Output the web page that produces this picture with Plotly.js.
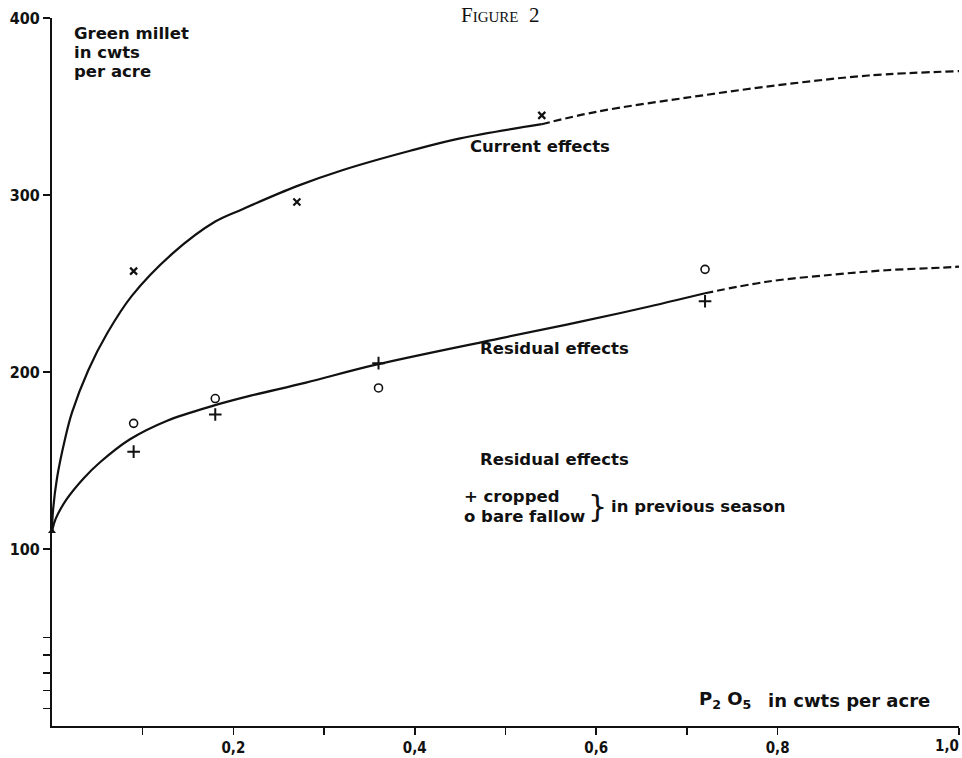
<!DOCTYPE html>
<html>
<head>
<meta charset="utf-8">
<script src="https://cdn.plot.ly/plotly-3.0.1.min.js"></script>
<style>html,body{margin:0;padding:0;background:#fff;}#chart{width:962px;height:758px;}</style>
</head>
<body>
<div id="chart"></div>
<script>
// ---- data ----
const currentPtsX = [0.09, 0.27, 0.54];
const currentPtsY = [257, 296, 345];

const croppedX = [0.09, 0.18, 0.36, 0.72];
const croppedY = [155, 176, 205, 240];

const fallowX = [0.09, 0.18, 0.36, 0.72];
const fallowY = [171, 185, 191, 258];

const controlX = [0];
const controlY = [110];

// fitted curves (solid part, then dashed extrapolation)
const currentCurveX = [0, 0.001, 0.0055, 0.0143, 0.022, 0.04, 0.061, 0.088, 0.133, 0.18, 0.21, 0.27, 0.32, 0.395, 0.45, 0.54];
const currentCurveY = [110, 121, 140, 162, 177, 201, 222, 243, 267, 285, 292, 305, 314, 325, 332, 340];
const currentDashX = [0.54, 0.6, 0.7, 0.8, 0.9, 1.0];
const currentDashY = [340, 347, 355, 362, 367.5, 370];

const residualCurveX = [0, 0.004, 0.016, 0.035, 0.053, 0.086, 0.127, 0.178, 0.218, 0.28, 0.356, 0.494, 0.579, 0.65, 0.72];
const residualCurveY = [110, 117, 128, 140, 149, 162, 172.5, 181, 186.5, 194, 204, 219, 228, 236, 244.5];
const residualDashX = [0.72, 0.788, 0.861, 0.92, 0.982, 1.0];
const residualDashY = [244.5, 251, 255, 257.5, 259, 259.5];

const xTickVals = [0.1, 0.2, 0.3, 0.4, 0.5, 0.6, 0.7, 0.8, 1.0];
const xTickText = ['', '0,2', '', '0,4', '', '0,6', '', '0,8', ''];
const xLastTickText = '1,0';
const yTickVals = [10, 20, 30, 40, 50, 100, 200, 300, 400];
const yTickText = ['', '', '', '', '', '100', '200', '300', '400'];

// ---- styling ----
const INK = '#111111';
const LBL = 'DejaVu Sans, sans-serif';
const TCK = 'DejaVu Sans Condensed, DejaVu Sans, sans-serif';
const lblFont = {family: LBL, size: 16.5, color: INK, weight: 'bold'};
const tickFont = {family: TCK, size: 15, color: INK, weight: 'bold'};

const traces = [
  {x: currentCurveX, y: currentCurveY, mode: 'lines', line: {color: INK, width: 2.2, shape: 'spline', smoothing: 1}},
  {x: currentDashX, y: currentDashY, mode: 'lines', line: {color: INK, width: 2.2, dash: '8px,4px', shape: 'spline', smoothing: 1}},
  {x: residualCurveX, y: residualCurveY, mode: 'lines', line: {color: INK, width: 2.2, shape: 'spline', smoothing: 1}},
  {x: residualDashX, y: residualDashY, mode: 'lines', line: {color: INK, width: 2.2, dash: '8px,4px', shape: 'spline', smoothing: 1}},
  {x: currentPtsX, y: currentPtsY, mode: 'markers', marker: {symbol: 'x-thin-open', size: 7, color: INK, line: {color: INK, width: 2.2}}},
  {x: croppedX, y: croppedY, mode: 'markers', marker: {symbol: 'cross-thin-open', size: 9, color: INK, line: {color: INK, width: 2}}},
  {x: fallowX, y: fallowY, mode: 'markers', marker: {symbol: 'circle-open', size: 8, color: INK, line: {color: INK, width: 1.6}}},
  {x: controlX, y: controlY, mode: 'markers', marker: {symbol: 'triangle-up', size: 7, color: INK}, cliponaxis: false}
];

function ann(x, y, text, extra) {
  return Object.assign({x: x, y: y, xref: 'x', yref: 'y', text: text, showarrow: false,
    xanchor: 'left', yanchor: 'middle', font: lblFont}, extra || {});
}

const layout = {
  width: 962, height: 758,
  margin: {l: 52, r: 3, t: 18, b: 32},
  paper_bgcolor: '#fff', plot_bgcolor: '#fff',
  showlegend: false, hovermode: false,
  title: {text: 'Figure&nbsp;&nbsp;2', x: 0.52, xanchor: 'center', y: 0.981, yanchor: 'middle',
    font: {family: 'Liberation Serif, DejaVu Serif, serif', size: 21, color: INK, variant: 'small-caps'}},
  xaxis: {range: [0, 1], showgrid: false, zeroline: false, showline: true, linecolor: INK, linewidth: 2,
    ticks: 'outside', ticklen: 7, tickwidth: 1.5, tickcolor: INK,
    tickmode: 'array', tickvals: xTickVals, ticktext: xTickText, tickfont: tickFont},
  yaxis: {range: [0, 400], showgrid: false, zeroline: false, showline: true, linecolor: INK, linewidth: 2,
    ticks: 'outside', ticklen: 7, tickwidth: 1.5, tickcolor: INK,
    tickmode: 'array', tickvals: yTickVals, ticktext: yTickText,
    tickfont: {family: TCK, size: 16, color: INK, weight: 'bold'}},
  annotations: [
    ann(0.022, 391, 'Green millet'),
    ann(0.022, 380.5, 'in cwts'),
    ann(0.022, 370, 'per acre'),
    ann(0.459, 327.5, 'Current effects'),
    ann(0.47, 213.5, 'Residual effects'),
    ann(0.47, 150.3, 'Residual effects'),
    ann(0.452, 129.5, '+ cropped'),
    ann(0.452, 118.5, 'o bare fallow'),
    ann(0.589, 124, '}', {font: {family: LBL, size: 30, color: INK}}),
    ann(0.614, 124, 'in previous season'),
    ann(0.711, 14.5, 'P<sub>2</sub> O<sub>5</sub>', {font: {family: LBL, size: 18, color: INK, weight: 'bold'}}),
    ann(0.787, 14.5, 'in cwts per acre', {font: {family: LBL, size: 18, color: INK, weight: 'bold'}}),
    {x: 1, y: 0, xref: 'x', yref: 'y', text: xLastTickText, showarrow: false, xanchor: 'right', yanchor: 'top',
      xshift: 2, yshift: -9, font: tickFont}
  ]
};

Plotly.newPlot('chart', traces, layout, {displayModeBar: false, staticPlot: true});
</script>
</body>
</html>
